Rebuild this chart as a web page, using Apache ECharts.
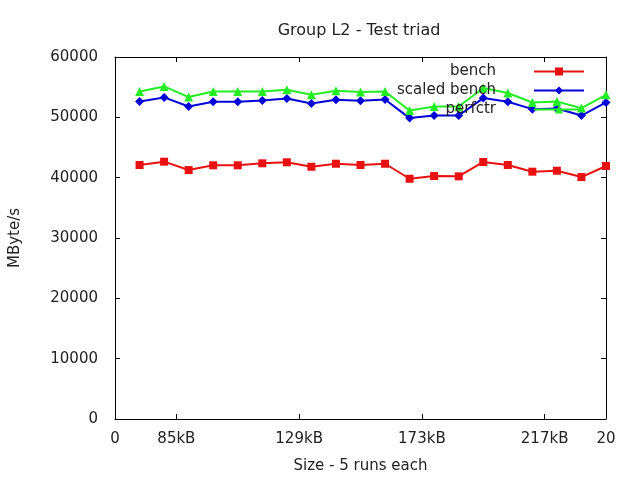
<!DOCTYPE html>
<html>
<head>
<meta charset="utf-8">
<script src="https://cdn.jsdelivr.net/npm/echarts@6/dist/echarts.min.js"></script>
<style>html,body{margin:0;padding:0;background:#fff}#c{width:640px;height:480px}</style>
</head>
<body>
<div id="c"></div>
<script>
var xPositions = [1, 2, 3, 4, 5, 6, 7, 8, 9, 10, 11, 12, 13, 14, 15, 16, 17, 18, 19, 20];
var bench = [42100, 42650, 41260, 42050, 42050, 42380, 42550, 41810, 42310, 42100, 42310, 39820, 40270, 40220, 42600, 42100, 40990, 41150, 40100, 41930];
var scaledBench = [52630, 53300, 51800, 52580, 52580, 52800, 53130, 52300, 52910, 52750, 52960, 49870, 50300, 50300, 53190, 52580, 51360, 51470, 50300, 52460];
var perfctr = [54290, 55120, 53360, 54290, 54290, 54290, 54580, 53740, 54410, 54190, 54290, 51130, 51800, 51800, 54860, 54030, 52460, 52630, 51530, 53740];
var xTickValues = [2.5, 7.5, 12.5, 17.5];
var xLabelValues = [0, 2.5, 7.5, 12.5, 17.5, 20];
var xLabelTexts = ['0', '85kB', '129kB', '173kB', '217kB', '20'];
var seriesNames = ['bench', 'scaled bench', 'perfctr'];

function pairs(vals) { return xPositions.map(function (x, i) { return [x, vals[i]]; }); }

var font = 'DejaVu Sans';
var fs = 15;
var chart = echarts.init(document.getElementById('c'), null, {renderer: 'canvas'});
var axisLineStyle = {show: true, onZero: false, lineStyle: {color: '#000', width: 1}};
chart.setOption({
  animation: false,
  backgroundColor: '#fff',
  textStyle: {fontFamily: font},
  title: {
    text: 'Group L2 - Test triad',
    left: 354, top: 18, textAlign: 'center',
    textStyle: {fontFamily: font, fontSize: 16, fontWeight: 'normal', color: '#222'}
  },
  grid: {left: 112, right: 34, top: 57, bottom: 61},
  legend: {
    orient: 'vertical', align: 'right',
    right: 50, top: 59,
    itemWidth: 50, itemHeight: 10, itemGap: 4,
    textStyle: {fontFamily: font, fontSize: fs, lineHeight: 15, color: '#222', padding: [0, 33, 0, 0]},
    data: seriesNames
  },
  xAxis: [{
    type: 'value', min: 0, max: 20, interval: 2.5,
    name: 'Size - 5 runs each', nameLocation: 'middle', nameGap: 40,
    nameTextStyle: {fontFamily: font, fontSize: fs, color: '#222'},
    axisLine: axisLineStyle,
    axisTick: {show: true, inside: true, length: 5, customValues: xTickValues, lineStyle: {color: '#000'}},
    axisLabel: {
      customValues: xLabelValues, margin: 13,
      fontFamily: font, fontSize: fs, color: '#222',
      formatter: function (v) { var i = xLabelValues.indexOf(v); return i >= 0 ? xLabelTexts[i] : ''; }
    },
    splitLine: {show: false}
  }, {
    type: 'value', min: 0, max: 20, interval: 2.5, position: 'top',
    axisLine: axisLineStyle,
    axisTick: {show: true, inside: true, length: 5, customValues: xTickValues, lineStyle: {color: '#000'}},
    axisLabel: {show: false}, splitLine: {show: false}
  }],
  yAxis: [{
    type: 'value', min: 0, max: 60000, interval: 10000,
    name: 'MByte/s', nameLocation: 'middle', nameGap: 92, nameRotate: 90,
    nameTextStyle: {fontFamily: font, fontSize: fs, color: '#222'},
    axisLine: axisLineStyle,
    axisTick: {show: true, inside: true, length: 5, lineStyle: {color: '#000'}},
    axisLabel: {margin: 17, fontFamily: font, fontSize: fs, color: '#222', formatter: function (v) { return String(v); }},
    splitLine: {show: false}
  }, {
    type: 'value', min: 0, max: 60000, interval: 10000, position: 'right',
    axisLine: axisLineStyle,
    axisTick: {show: true, inside: true, length: 5, lineStyle: {color: '#000'}},
    axisLabel: {show: false}, splitLine: {show: false}
  }],
  series: [{
    name: seriesNames[0], type: 'line', data: pairs(bench),
    symbol: 'rect', symbolSize: 8,
    lineStyle: {color: '#e81010', width: 2}, itemStyle: {color: '#e81010'}
  }, {
    name: seriesNames[1], type: 'line', data: pairs(scaledBench),
    symbol: 'diamond', symbolSize: 9,
    lineStyle: {color: '#0000d8', width: 2}, itemStyle: {color: '#0000d8'}
  }, {
    name: seriesNames[2], type: 'line', data: pairs(perfctr),
    symbol: 'triangle', symbolSize: 9,
    lineStyle: {color: '#22ee22', width: 2}, itemStyle: {color: '#22ee22'}
  }]
});
</script>
</body>
</html>
